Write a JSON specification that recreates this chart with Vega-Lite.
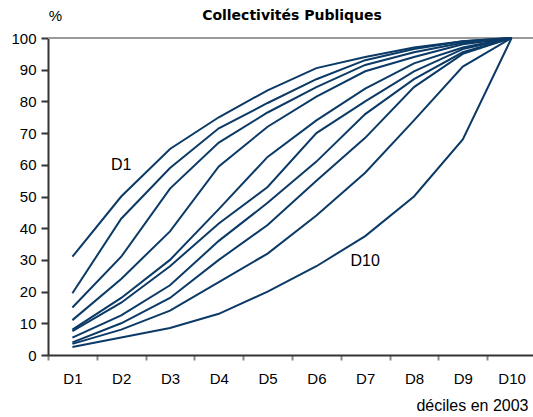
{
  "$schema": "https://vega.github.io/schema/vega-lite/v6.json",
  "width": 488,
  "height": 317,
  "autosize": {"type": "none"},
  "padding": {"left": 48, "top": 38, "right": 0, "bottom": 62},
  "background": "white",
  "config": {"view": {"stroke": null}, "font": "Liberation Sans"},
  "title": {"text": "Collectivités Publiques", "fontSize": 14, "fontWeight": "bold", "font": "DejaVu Sans", "color": "#000", "offset": 0, "anchor": "middle", "frame": "group", "baseline": "alphabetic", "dy": 26},
  "datasets": {
    "curves": [
      {"s": 1, "d": "D1", "v": 31}, {"s": 1, "d": "D2", "v": 50}, {"s": 1, "d": "D3", "v": 65}, {"s": 1, "d": "D4", "v": 75}, {"s": 1, "d": "D5", "v": 83.5}, {"s": 1, "d": "D6", "v": 90.5}, {"s": 1, "d": "D7", "v": 94}, {"s": 1, "d": "D8", "v": 97}, {"s": 1, "d": "D9", "v": 99}, {"s": 1, "d": "D10", "v": 100},
      {"s": 2, "d": "D1", "v": 19.5}, {"s": 2, "d": "D2", "v": 43}, {"s": 2, "d": "D3", "v": 59}, {"s": 2, "d": "D4", "v": 71.5}, {"s": 2, "d": "D5", "v": 79.5}, {"s": 2, "d": "D6", "v": 87}, {"s": 2, "d": "D7", "v": 93}, {"s": 2, "d": "D8", "v": 96.5}, {"s": 2, "d": "D9", "v": 99}, {"s": 2, "d": "D10", "v": 100},
      {"s": 3, "d": "D1", "v": 15}, {"s": 3, "d": "D2", "v": 31}, {"s": 3, "d": "D3", "v": 52.5}, {"s": 3, "d": "D4", "v": 67}, {"s": 3, "d": "D5", "v": 76.5}, {"s": 3, "d": "D6", "v": 84.5}, {"s": 3, "d": "D7", "v": 91.5}, {"s": 3, "d": "D8", "v": 95.5}, {"s": 3, "d": "D9", "v": 98.5}, {"s": 3, "d": "D10", "v": 100},
      {"s": 4, "d": "D1", "v": 11}, {"s": 4, "d": "D2", "v": 24}, {"s": 4, "d": "D3", "v": 39}, {"s": 4, "d": "D4", "v": 59.5}, {"s": 4, "d": "D5", "v": 72}, {"s": 4, "d": "D6", "v": 81.5}, {"s": 4, "d": "D7", "v": 89.5}, {"s": 4, "d": "D8", "v": 94}, {"s": 4, "d": "D9", "v": 98}, {"s": 4, "d": "D10", "v": 100},
      {"s": 5, "d": "D1", "v": 8}, {"s": 5, "d": "D2", "v": 18}, {"s": 5, "d": "D3", "v": 30}, {"s": 5, "d": "D4", "v": 46}, {"s": 5, "d": "D5", "v": 62.5}, {"s": 5, "d": "D6", "v": 74}, {"s": 5, "d": "D7", "v": 84}, {"s": 5, "d": "D8", "v": 92}, {"s": 5, "d": "D9", "v": 97}, {"s": 5, "d": "D10", "v": 100},
      {"s": 6, "d": "D1", "v": 7.5}, {"s": 6, "d": "D2", "v": 16.5}, {"s": 6, "d": "D3", "v": 28}, {"s": 6, "d": "D4", "v": 41.5}, {"s": 6, "d": "D5", "v": 53}, {"s": 6, "d": "D6", "v": 70}, {"s": 6, "d": "D7", "v": 80}, {"s": 6, "d": "D8", "v": 89.5}, {"s": 6, "d": "D9", "v": 96.5}, {"s": 6, "d": "D10", "v": 100},
      {"s": 7, "d": "D1", "v": 5.5}, {"s": 7, "d": "D2", "v": 12.5}, {"s": 7, "d": "D3", "v": 22}, {"s": 7, "d": "D4", "v": 36}, {"s": 7, "d": "D5", "v": 48}, {"s": 7, "d": "D6", "v": 61}, {"s": 7, "d": "D7", "v": 76}, {"s": 7, "d": "D8", "v": 87}, {"s": 7, "d": "D9", "v": 95.5}, {"s": 7, "d": "D10", "v": 100},
      {"s": 8, "d": "D1", "v": 4}, {"s": 8, "d": "D2", "v": 10}, {"s": 8, "d": "D3", "v": 18}, {"s": 8, "d": "D4", "v": 30}, {"s": 8, "d": "D5", "v": 41}, {"s": 8, "d": "D6", "v": 55}, {"s": 8, "d": "D7", "v": 68.5}, {"s": 8, "d": "D8", "v": 84.5}, {"s": 8, "d": "D9", "v": 95}, {"s": 8, "d": "D10", "v": 100},
      {"s": 9, "d": "D1", "v": 3.5}, {"s": 9, "d": "D2", "v": 8}, {"s": 9, "d": "D3", "v": 14}, {"s": 9, "d": "D4", "v": 23}, {"s": 9, "d": "D5", "v": 32}, {"s": 9, "d": "D6", "v": 44}, {"s": 9, "d": "D7", "v": 57.5}, {"s": 9, "d": "D8", "v": 74}, {"s": 9, "d": "D9", "v": 91}, {"s": 9, "d": "D10", "v": 100},
      {"s": 10, "d": "D1", "v": 2.5}, {"s": 10, "d": "D2", "v": 5.5}, {"s": 10, "d": "D3", "v": 8.5}, {"s": 10, "d": "D4", "v": 13}, {"s": 10, "d": "D5", "v": 20}, {"s": 10, "d": "D6", "v": 28}, {"s": 10, "d": "D7", "v": 37.5}, {"s": 10, "d": "D8", "v": 50}, {"s": 10, "d": "D9", "v": 68}, {"s": 10, "d": "D10", "v": 100}
    ],
    "labels": [
      {"d": "D2", "v": 60, "t": "D1"},
      {"d": "D7", "v": 29.5, "t": "D10"}
    ]
  },
  "encoding": {
    "x": {
      "field": "d", "type": "ordinal",
      "sort": ["D1","D2","D3","D4","D5","D6","D7","D8","D9","D10"],
      "scale": {"domain": ["D1","D2","D3","D4","D5","D6","D7","D8","D9","D10"], "paddingInner": 0, "paddingOuter": 0},
      "axis": {
        "title": "déciles en 2003", "titleFont": "Liberation Sans", "titleFontSize": 16, "titleFontWeight": "normal", "titleColor": "#000",
        "titleAnchor": "end", "titleAlign": "right", "titleX": 480, "titleY": 55, "titleBaseline": "alphabetic",
        "labelAngle": 0, "labelFont": "Liberation Sans", "labelFontSize": 15, "labelColor": "#000", "labelPadding": 11,
        "tickBand": "extent", "tickSize": 5, "tickColor": "#888", "tickWidth": 2,
        "domainColor": "#333", "domainWidth": 2, "grid": false
      }
    },
    "y": {
      "field": "v", "type": "quantitative",
      "scale": {"domain": [0, 100], "nice": false},
      "axis": {
        "title": "%", "titleAngle": 0, "titleFont": "Liberation Sans", "titleFontSize": 15, "titleFontWeight": "normal", "titleColor": "#000",
        "titleX": 7, "titleY": -18, "titleAlign": "center", "titleBaseline": "alphabetic",
        "values": [0,10,20,30,40,50,60,70,80,90,100],
        "labelFont": "Liberation Sans", "labelFontSize": 15, "labelColor": "#000", "labelPadding": 5,
        "tickSize": 7, "tickColor": "#333", "tickWidth": 2,
        "domainColor": "#333", "domainWidth": 2, "grid": false
      }
    }
  },
  "layer": [
    {
      "data": {"values": [{"v": 100}]},
      "mark": {"type": "rule", "color": "#999", "strokeWidth": 2},
      "encoding": {"y": {"field": "v", "type": "quantitative"}, "x": null}
    },
    {
      "data": {"name": "curves"},
      "mark": {"type": "line", "color": "#0b3a66", "strokeWidth": 2},
      "encoding": {"detail": {"field": "s", "type": "nominal"}}
    },
    {
      "data": {"name": "labels"},
      "mark": {"type": "text", "font": "Liberation Sans", "fontSize": 16, "color": "#000", "align": "center", "baseline": "middle", "dx": 0},
      "encoding": {"text": {"field": "t"}}
    }
  ]
}
